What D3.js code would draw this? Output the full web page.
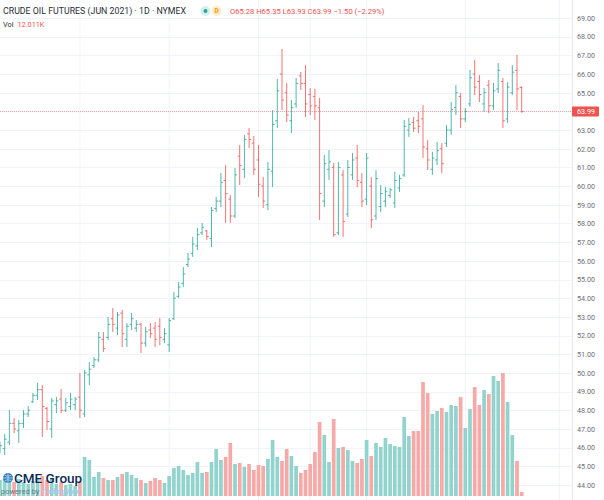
<!DOCTYPE html>
<html><head><meta charset="utf-8">
<script src="https://cdn.jsdelivr.net/npm/d3@7"></script>
<style>
body{margin:0;background:#fff;}
svg{display:block;font-family:Roboto,"Open Sans",sans-serif;}
</style>
</head><body>
<svg id="c" width="604" height="500"></svg>
<script>
// ---- DATA ----
const dates = [
"2020-12-08","2020-12-09","2020-12-10","2020-12-11","2020-12-14","2020-12-15","2020-12-16","2020-12-17","2020-12-18","2020-12-21",
"2020-12-22","2020-12-23","2020-12-24","2020-12-28","2020-12-29","2020-12-30","2020-12-31",
"2021-01-04","2021-01-05","2021-01-06","2021-01-07","2021-01-08","2021-01-11","2021-01-12","2021-01-13","2021-01-14","2021-01-15",
"2021-01-19","2021-01-20","2021-01-21","2021-01-22","2021-01-25","2021-01-26","2021-01-27","2021-01-28","2021-01-29",
"2021-02-01","2021-02-02","2021-02-03","2021-02-04","2021-02-05","2021-02-08","2021-02-09","2021-02-10","2021-02-11","2021-02-12",
"2021-02-16","2021-02-17","2021-02-18","2021-02-19","2021-02-22","2021-02-23","2021-02-24","2021-02-25","2021-02-26",
"2021-03-01","2021-03-02","2021-03-03","2021-03-04","2021-03-05","2021-03-08","2021-03-09","2021-03-10","2021-03-11","2021-03-12",
"2021-03-15","2021-03-16","2021-03-17","2021-03-18","2021-03-19","2021-03-22","2021-03-23","2021-03-24","2021-03-25","2021-03-26",
"2021-03-29","2021-03-30","2021-03-31","2021-04-01","2021-04-05","2021-04-06","2021-04-07","2021-04-08","2021-04-09",
"2021-04-12","2021-04-13","2021-04-14","2021-04-15","2021-04-16","2021-04-19","2021-04-20","2021-04-21","2021-04-22","2021-04-23",
"2021-04-26","2021-04-27","2021-04-28","2021-04-29","2021-04-30","2021-05-03","2021-05-04","2021-05-05","2021-05-06","2021-05-07",
"2021-05-10","2021-05-11","2021-05-12","2021-05-13","2021-05-14","2021-05-17","2021-05-18","2021-05-19"
];
const futureDates = ["2021-05-20","2021-05-21","2021-05-24","2021-05-25","2021-05-26","2021-05-27","2021-05-28","2021-06-01"];

const opens = [45.80,45.95,46.30,47.30,46.90,47.30,47.80,48.45,48.80,49.10,
48.10,47.00,48.30,48.60,48.00,48.20,48.30,48.70,47.80,49.90,
50.40,50.70,51.80,51.90,52.90,52.40,53.20,51.80,52.60,52.40,
52.60,51.60,52.30,52.40,52.50,51.80,51.50,52.90,54.10,54.80,
55.80,56.40,56.80,57.50,57.60,57.20,58.80,59.20,60.30,59.30,
58.40,61.60,60.90,62.80,62.30,61.40,60.00,59.00,60.80,63.50,
66.00,65.00,63.50,64.40,65.90,65.50,64.90,64.80,64.20,59.20,
60.90,61.00,57.50,60.60,58.50,60.60,61.50,60.20,59.30,60.00,
58.40,58.90,59.20,59.50,59.10,59.90,60.60,63.00,63.40,63.50,
63.60,62.00,60.90,61.40,62.00,62.30,63.00,64.20,64.80,63.60,
64.40,66.00,65.60,64.40,65.40,64.30,65.20,65.60,63.60,65.00,
66.20,65.28];
const highs = [46.30,46.73,48.01,47.59,47.48,48.01,48.23,48.93,49.46,49.35,
48.18,48.66,48.71,49.14,48.66,48.93,48.71,50.00,50.16,50.58,
50.85,52.19,52.19,52.99,53.48,53.26,53.37,52.67,53.21,52.83,
52.67,52.46,52.67,52.73,52.94,52.40,52.94,54.33,54.87,55.67,
56.42,57.28,57.76,58.03,57.65,58.88,59.42,60.70,61.13,59.52,
60.97,62.20,62.74,63.11,62.68,62.20,60.49,61.29,64.07,65.73,
67.34,65.52,64.61,65.79,66.11,66.48,65.25,65.20,64.72,61.67,
61.93,61.24,61.29,60.86,61.40,61.77,62.20,60.70,61.77,60.49,
60.86,60.06,59.95,59.90,60.76,60.60,63.54,63.65,63.70,63.97,
64.34,62.47,61.83,62.36,62.31,63.27,64.50,65.41,64.98,64.18,
66.22,66.75,65.95,65.25,65.68,65.52,66.59,65.79,65.57,66.48,
67.02,65.35];
const lows = [45.71,45.61,46.14,46.78,46.25,47.05,47.64,48.39,48.55,46.57,
46.94,46.52,47.85,47.85,47.91,48.01,48.01,47.59,47.64,49.35,
50.26,50.58,51.12,51.76,52.19,52.03,51.39,51.39,52.30,52.19,
51.07,51.39,51.87,51.39,51.49,51.60,51.12,52.83,54.01,54.60,
55.67,56.21,56.58,57.38,57.12,56.74,58.61,58.88,58.03,58.03,
58.29,60.06,60.43,62.04,60.60,59.42,58.83,58.72,59.95,63.11,
64.07,63.43,62.84,64.18,65.15,63.70,63.81,63.54,58.19,58.88,
60.33,57.28,57.38,57.28,58.35,60.33,59.95,58.88,58.99,57.76,
58.19,58.61,58.88,59.36,58.83,59.69,60.49,62.63,62.90,62.84,
61.51,60.86,60.60,61.13,60.70,62.09,62.74,63.81,63.11,63.43,
64.24,64.88,64.50,63.97,63.91,64.07,64.98,63.11,63.38,64.88,
64.07,63.93];
const closes = [46.10,46.45,47.30,47.00,47.30,47.80,48.00,48.80,49.10,48.20,
47.40,48.50,48.50,48.00,48.40,48.60,48.60,48.00,50.00,50.20,
50.70,51.90,51.30,52.60,52.60,53.10,52.10,52.50,52.90,52.60,
51.60,52.20,52.10,51.80,51.90,52.10,52.80,54.00,54.60,55.30,
56.10,56.90,57.40,57.80,57.30,58.70,59.20,60.20,59.60,58.40,
60.60,61.10,62.50,62.50,60.90,60.10,59.20,60.90,63.30,65.10,
64.60,63.80,64.20,65.50,65.50,64.40,64.30,64.30,59.60,61.20,
61.30,57.40,61.00,58.10,61.00,61.40,60.30,59.20,61.50,58.20,
60.40,59.60,59.70,59.80,60.30,60.40,63.20,63.30,63.10,63.20,
62.10,61.40,61.50,61.90,61.20,63.00,64.10,65.00,63.60,64.00,
65.80,65.30,64.90,65.00,64.30,65.10,66.20,63.50,65.30,66.10,
65.20,63.99];
// volume in thousands of contracts
const volumes = [48,54,60,42,51,42,36,45,54,60,
48,54,36,42,33,36,30,42,117,108,
57,72,54,48,48,57,66,72,63,54,
48,39,45,54,48,39,60,84,90,78,
63,69,102,69,72,102,141,108,117,159,
96,99,87,96,78,93,90,111,168,117,
105,141,120,90,69,78,96,132,222,183,
102,231,144,147,138,105,99,111,168,120,
159,147,174,156,150,147,237,180,195,195,
342,309,246,255,264,252,273,270,297,204,
261,327,273,318,306,360,345,369,282,183,
105,12.011];

const priceTicks = [44,45,46,47,48,49,50,51,52,53,54,55,56,57,58,59,60,61,62,63,65,66,67,68,69];
const gridPrices = [44,45,46,47,48,49,50,51,52,53,54,55,56,57,58,59,60,61,62,63,64,65,66,67,68,69];
const gridDates = ["2021-01-04","2021-02-01","2021-03-01","2021-03-16","2021-04-01","2021-05-03","2021-06-01"];
const lastPrice = 63.99;
const titleText = "CRUDE OIL FUTURES (JUN 2021) · 1D · NYMEX";
const ohlcText = "O65.28 H65.35 L63.93 C63.99 −1.50 (−2.29%)";
const volText = "12.011K";

// ---- CHART ----
const W = 604, H = 500;
const axisX = 572;
const UP = "#26a69a", DOWN = "#ef5350";
const UPV = "#93d3cd", DOWNV = "#f7a9a7";

const bars = dates.map((d,i)=>({d, o:opens[i], h:highs[i], l:lows[i], c:closes[i], v:volumes[i]}));
const allDates = dates.concat(futureDates);

const x = d3.scalePoint().domain(allDates).range([0, (allDates.length-1)*4.7]);
const y = d3.scaleLinear().domain([44,69]).range([485,18]);
const yv = d3.scaleLinear().domain([0,400]).range([496,362.7]);

const svg = d3.select("#c");
svg.append("rect").attr("width",W).attr("height",H).attr("fill","#fff");

svg.append("defs").append("clipPath").attr("id","plot")
  .append("rect").attr("x",0).attr("y",0).attr("width",axisX).attr("height",H);

const plot = svg.append("g").attr("clip-path","url(#plot)");

// grid
plot.append("g").selectAll("line").data(gridPrices).join("line")
  .attr("x1",0).attr("x2",axisX)
  .attr("y1",d=>Math.round(y(d))+0.5).attr("y2",d=>Math.round(y(d))+0.5)
  .attr("stroke","#f0f3fa").attr("stroke-width",1);
plot.append("g").selectAll("line").data(gridDates).join("line")
  .attr("x1",d=>x(d)).attr("x2",d=>x(d))
  .attr("y1",0).attr("y2",H)
  .attr("stroke","#f0f3fa").attr("stroke-width",1);

// volume
plot.append("g").selectAll("rect").data(bars).join("rect")
  .attr("x",d=>x(d.d)-1.85).attr("width",3.7)
  .attr("y",d=>yv(d.v)).attr("height",d=>yv(0)-yv(d.v))
  .attr("fill",d=>d.c>=d.o?UPV:DOWNV);

// OHLC bars
plot.append("g").selectAll("path").data(bars).join("path")
  .attr("d",d=>{
    const cx = x(d.d);
    return `M${cx},${y(d.h)}V${y(d.l)}M${cx-2},${y(d.o)}H${cx}M${cx},${y(d.c)}H${cx+2}`;
  })
  .attr("fill","none")
  .attr("stroke",d=>d.c>=d.o?UP:DOWN)
  .attr("stroke-opacity",0.8)
  .attr("stroke-width",1);

// last price line
plot.append("line")
  .attr("x1",0).attr("x2",axisX)
  .attr("y1",y(lastPrice)).attr("y2",y(lastPrice))
  .attr("stroke",DOWN).attr("stroke-opacity",0.5)
  .attr("stroke-dasharray","1,1").attr("stroke-width",1);

// logo
const logo = svg.append("g");
logo.append("circle").attr("cx",8).attr("cy",478).attr("r",5).attr("fill","#2f7fc1");
logo.append("path").attr("d","M3,478H13M8,473V483M4.5,475C6.5,476.5 9.5,476.5 11.5,475M4.5,481C6.5,479.5 9.5,479.5 11.5,481")
  .attr("stroke","#cfe3f5").attr("stroke-width",0.7).attr("fill","none");
logo.append("text").attr("x",14).attr("y",483).attr("font-size",13.5)
  .attr("fill","#0c2c57").attr("font-weight",500).text("CME Group");
logo.append("text").attr("x",1).attr("y",494).attr("font-size",7.5)
  .attr("fill","#6f7a86").text("powered by");
logo.append("text").attr("x",41).attr("y",494).attr("font-size",7)
  .attr("fill","#a9c9ea").attr("font-weight",700).text("TradingView");

// right axis
svg.append("line").attr("x1",axisX+0.5).attr("x2",axisX+0.5).attr("y1",0).attr("y2",H)
  .attr("stroke","#e6e8ee");
const axis = d3.axisRight(y).tickValues(priceTicks).tickFormat(d3.format(".2f")).tickSize(0).tickPadding(5);
const ag = svg.append("g").attr("transform",`translate(${axisX},0)`).call(axis);
ag.select(".domain").remove();
ag.selectAll("text").attr("font-size",7.2).attr("fill","#6b6f7a").attr("font-family","Roboto,sans-serif");

// last price label
svg.append("rect").attr("x",axisX).attr("y",y(lastPrice)-5).attr("width",27).attr("height",10)
  .attr("fill",DOWN).attr("rx",1);
svg.append("text").attr("x",axisX+5).attr("y",y(lastPrice)).attr("dy","0.34em")
  .attr("font-size",7.2).attr("fill","#fff").text(d3.format(".2f")(lastPrice));

// header
const hd = svg.append("g");
hd.append("text").attr("x",3).attr("y",14).attr("font-size",8.8).attr("fill","#2a2e39").text(titleText);
hd.append("circle").attr("cx",205.5).attr("cy",11).attr("r",5).attr("fill","#d6f1ed");
hd.append("circle").attr("cx",205.5).attr("cy",11).attr("r",2).attr("fill",UP);
hd.append("circle").attr("cx",216.5).attr("cy",11).attr("r",5).attr("fill","#fdebcc");
hd.append("text").attr("x",216.5).attr("y",11).attr("dy","0.35em").attr("text-anchor","middle")
  .attr("font-size",6.5).attr("font-weight",700).attr("fill","#ff9800").text("D");
hd.append("text").attr("x",230).attr("y",14).attr("font-size",7.6).attr("fill",DOWN).text(ohlcText);
const vt = hd.append("text").attr("x",3).attr("y",27).attr("font-size",7.3);
vt.append("tspan").attr("fill","#2a2e39").text("Vol");
vt.append("tspan").attr("fill",DOWN).attr("dx",4).text(volText);
</script>
</body></html>
